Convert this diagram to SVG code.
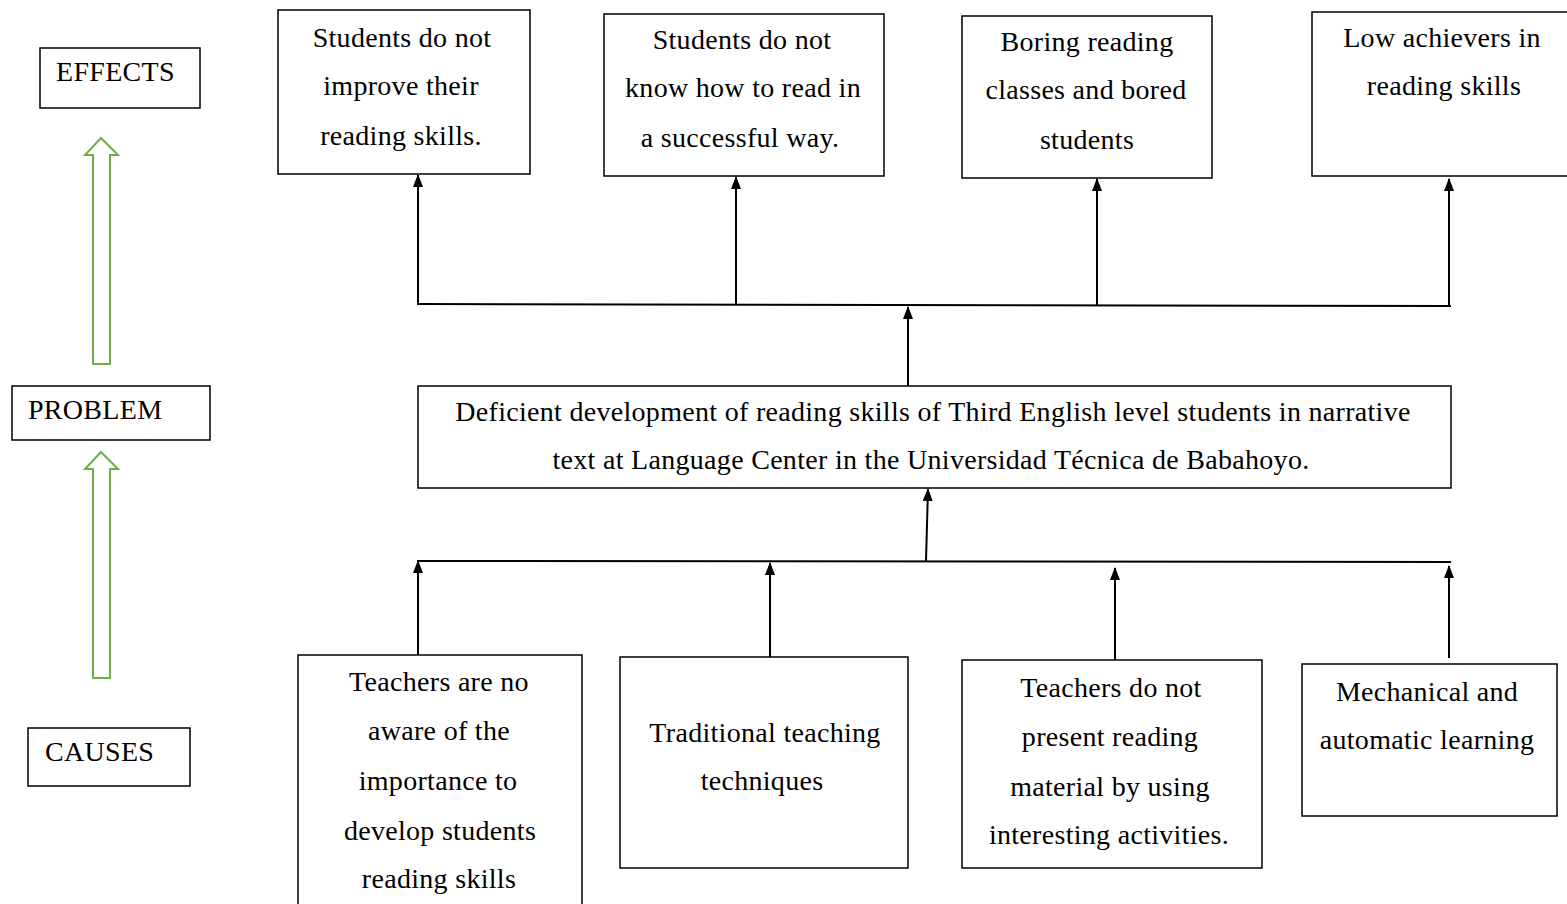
<svg xmlns="http://www.w3.org/2000/svg" width="1567" height="904" viewBox="0 0 1567 904">
<style>
.box{fill:#fff;stroke:#000;stroke-width:1.5}
.t{font-family:"Liberation Serif","Times New Roman",serif;font-size:28px;letter-spacing:0.3px;fill:#000;text-anchor:middle}
.tl{font-family:"Liberation Serif","Times New Roman",serif;font-size:28px;letter-spacing:0.3px;fill:#000}
.c{stroke:#000;stroke-width:2;fill:none}
.ga{fill:#fff;stroke:#70AD47;stroke-width:2}
</style>
<defs>
<marker id="ah" markerUnits="userSpaceOnUse" markerWidth="13" markerHeight="10" refX="12" refY="5" orient="auto">
<path d="M0,0 L13,5 L0,10 z" fill="#000"/>
</marker>
</defs>
<rect width="1567" height="904" fill="#fff"/>
<g id="legend">
<g id="effects-label"><rect class="box" x="40" y="48" width="160" height="60"/><text class="tl" x="56" y="81">EFFECTS</text></g>
<g id="problem-label"><rect class="box" x="12" y="386" width="198" height="54"/><text class="tl" x="28" y="419">PROBLEM</text></g>
<g id="causes-label"><rect class="box" x="28" y="728" width="162" height="58"/><text class="tl" x="45" y="761">CAUSES</text></g>
<path class="ga" d="M101,138 L118,155 L110,155 L110,364 L93,364 L93,155 L85,155 Z"/>
<path class="ga" d="M101,452 L118,469 L110,469 L110,678 L93,678 L93,469 L85,469 Z"/>
</g>
<g id="connectors">
<line class="c" x1="417" y1="304" x2="1451" y2="306"/>
<line class="c" x1="418" y1="304" x2="418" y2="175" marker-end="url(#ah)"/>
<line class="c" x1="736" y1="304" x2="736" y2="177" marker-end="url(#ah)"/>
<line class="c" x1="1097" y1="305" x2="1097" y2="179" marker-end="url(#ah)"/>
<line class="c" x1="1449" y1="306" x2="1449" y2="179" marker-end="url(#ah)"/>
<line class="c" x1="908" y1="386" x2="908" y2="307" marker-end="url(#ah)"/>
<line class="c" x1="417" y1="561" x2="1451" y2="562"/>
<line class="c" x1="926" y1="561" x2="928" y2="489" marker-end="url(#ah)"/>
<line class="c" x1="418" y1="655" x2="418" y2="561" marker-end="url(#ah)"/>
<line class="c" x1="770" y1="657" x2="770" y2="563" marker-end="url(#ah)"/>
<line class="c" x1="1115" y1="660" x2="1115" y2="568" marker-end="url(#ah)"/>
<line class="c" x1="1449" y1="658" x2="1449" y2="566" marker-end="url(#ah)"/>
</g>
<g id="effect1"><rect class="box" x="278" y="10" width="252" height="164"/>
<text class="t" x="402" y="47">Students do not</text><text class="t" x="401" y="95">improve their</text><text class="t" x="401" y="145">reading skills.</text></g>
<g id="effect2"><rect class="box" x="604" y="14" width="280" height="162"/>
<text class="t" x="742" y="49">Students do not</text><text class="t" x="743" y="97">know how to read in</text><text class="t" x="740" y="147">a successful  way.</text></g>
<g id="effect3"><rect class="box" x="962" y="16" width="250" height="162"/>
<text class="t" x="1087" y="51">Boring reading</text><text class="t" x="1086" y="99">classes and bored</text><text class="t" x="1087" y="149">students</text></g>
<g id="effect4"><rect class="box" x="1312" y="12" width="262" height="164"/>
<text class="t" x="1442" y="47">Low achievers in</text><text class="t" x="1444" y="95">reading skills</text></g>
<g id="problem"><rect class="box" x="418" y="386" width="1033" height="102"/>
<text class="t" x="933" y="421">Deficient development of reading skills of Third English level students in narrative</text>
<text class="t" x="931" y="469">text at Language Center in the Universidad Técnica de Babahoyo.</text></g>
<g id="cause1"><rect class="box" x="298" y="655" width="284" height="260"/>
<text class="t" x="439" y="691">Teachers are no</text><text class="t" x="439" y="740">aware of the</text><text class="t" x="438" y="790">importance to</text><text class="t" x="440" y="840">develop students</text><text class="t" x="439" y="888">reading skills</text></g>
<g id="cause2"><rect class="box" x="620" y="657" width="288" height="211"/>
<text class="t" x="765" y="742">Traditional teaching</text><text class="t" x="762" y="790">techniques</text></g>
<g id="cause3"><rect class="box" x="962" y="660" width="300" height="208"/>
<text class="t" x="1111" y="697">Teachers do not</text><text class="t" x="1110" y="746">present reading</text><text class="t" x="1110" y="796">material by using</text><text class="t" x="1109" y="844">interesting activities.</text></g>
<g id="cause4"><rect class="box" x="1302" y="664" width="255" height="152"/>
<text class="t" x="1427" y="701">Mechanical and</text><text class="t" x="1427" y="749">automatic learning</text></g>
</svg>
